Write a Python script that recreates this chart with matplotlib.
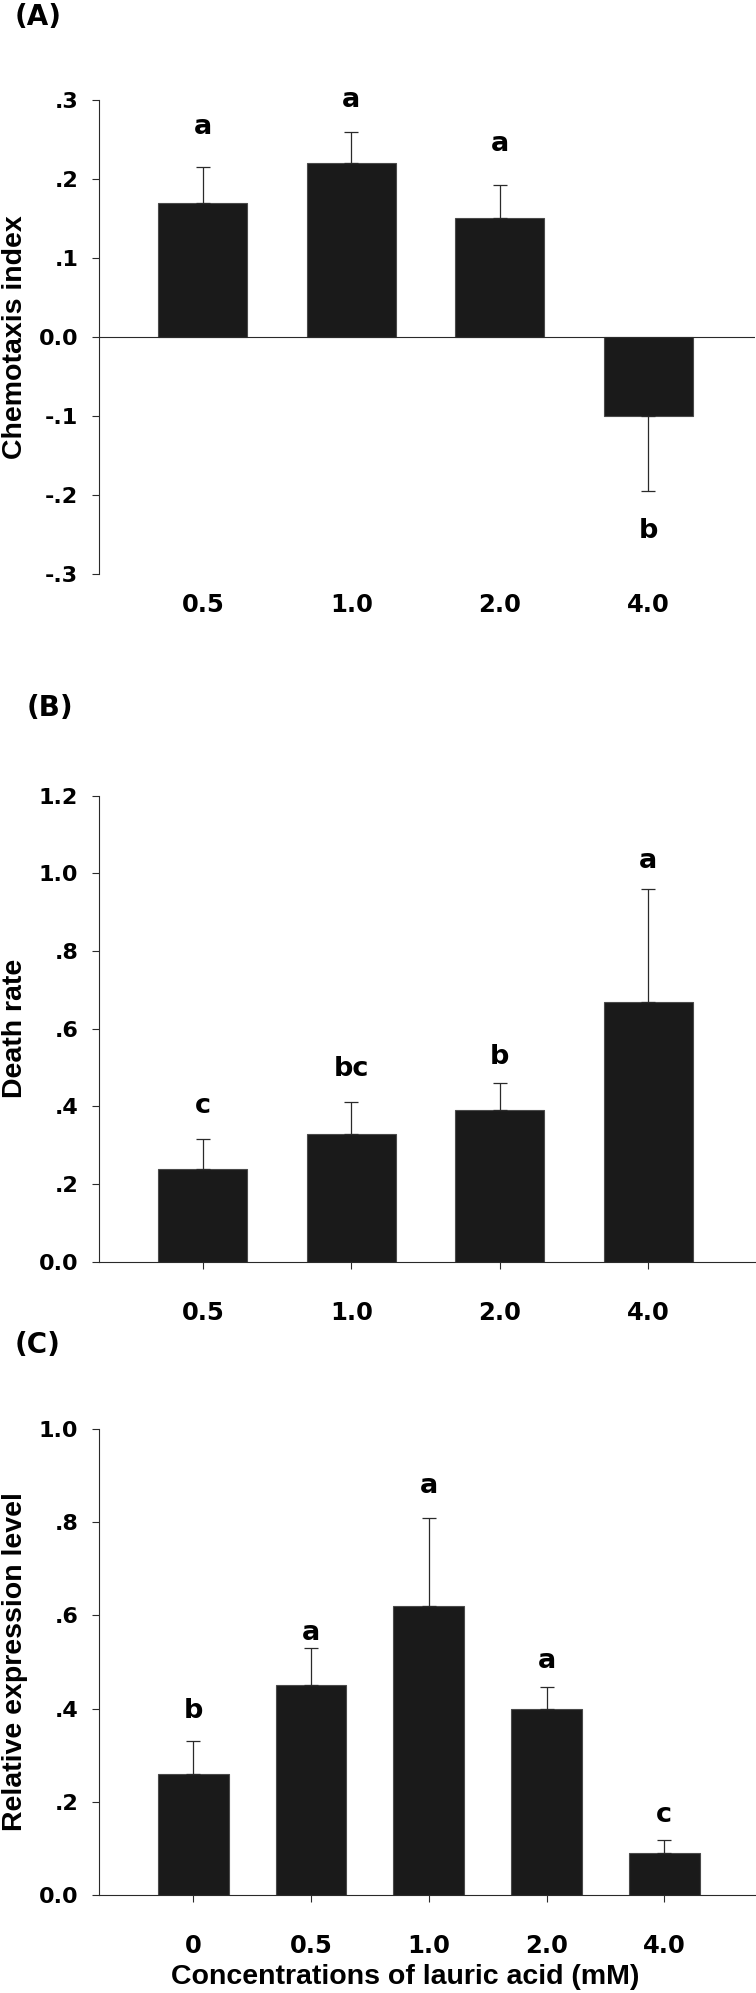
import matplotlib
matplotlib.use('Agg')
import matplotlib.pyplot as plt

# ---------------- data ----------------
# Panel A: chemotaxis index
a_cats = ['0.5', '1.0', '2.0', '4.0']
a_means = [0.17, 0.22, 0.15, -0.10]
a_err = [0.045, 0.040, 0.042, 0.095]
a_letters = ['a', 'a', 'a', 'b']
a_letter_y = [0.266, 0.300, 0.244, -0.245]
a_yticks = [-0.3, -0.2, -0.1, 0.0, 0.1, 0.2, 0.3]
a_yticklabels = ['-.3', '-.2', '-.1', '0.0', '.1', '.2', '.3']

# Panel B: death rate
b_cats = ['0.5', '1.0', '2.0', '4.0']
b_means = [0.24, 0.33, 0.39, 0.67]
b_err = [0.075, 0.080, 0.070, 0.290]
b_letters = ['c', 'bc', 'b', 'a']
b_letter_y = [0.400, 0.495, 0.528, 1.033]
b_yticks = [0.0, 0.2, 0.4, 0.6, 0.8, 1.0, 1.2]
b_yticklabels = ['0.0', '.2', '.4', '.6', '.8', '1.0', '1.2']

# Panel C: relative expression level
c_cats = ['0', '0.5', '1.0', '2.0', '4.0']
c_means = [0.26, 0.45, 0.62, 0.40, 0.09]
c_err = [0.070, 0.080, 0.190, 0.047, 0.028]
c_letters = ['b', 'a', 'a', 'a', 'c']
c_letter_y = [0.395, 0.562, 0.877, 0.502, 0.172]
c_yticks = [0.0, 0.2, 0.4, 0.6, 0.8, 1.0]
c_yticklabels = ['0.0', '.2', '.4', '.6', '.8', '1.0']

# ---------------- style ----------------
plt.rcParams['font.family'] = ['DejaVu Sans']
plt.rcParams['font.weight'] = 'bold'
W, H = 756, 1993
LINE = '#2a2a2a'
BAR = '#1a1a1a'
LABEL_FONT = ['Liberation Sans', 'DejaVu Sans']

fig = plt.figure(figsize=(W / 100, H / 100), dpi=100)


def rect(left, top, right, bottom):
    return [left / W, 1 - bottom / H, (right - left) / W, (bottom - top) / H]


def draw(ax, cats, means, err, letters, letter_y, yticks, yticklabels,
         ylim, xlim, ylabel, zero_line):
    x = list(range(len(cats)))
    lower = [e if m < 0 else 0 for m, e in zip(means, err)]
    upper = [e if m >= 0 else 0 for m, e in zip(means, err)]
    ax.bar(x, means, width=0.6, color=BAR, edgecolor='#4a4a4a',
           linewidth=0.8, zorder=2)
    ax.errorbar(x, means, yerr=[lower, upper], fmt='none', ecolor=LINE,
                elinewidth=0.9, capsize=5.2, capthick=0.9, zorder=3)
    for xi, lt, ly in zip(x, letters, letter_y):
        ax.text(xi, ly, lt, ha='center', va='center', fontsize=19.5,
                fontweight='bold', color='black')
    ax.set_xlim(*xlim)
    ax.set_ylim(*ylim)
    ax.set_yticks(yticks)
    ax.set_yticklabels(yticklabels)
    ax.set_xticks(x)
    ax.set_xticklabels(cats)
    for s in ['top', 'right']:
        ax.spines[s].set_visible(False)
    ax.spines['left'].set_color(LINE)
    ax.spines['left'].set_linewidth(0.8)
    ax.tick_params(axis='y', length=5, width=0.8, color=LINE, pad=10,
                   labelsize=16)
    if zero_line:
        ax.spines['bottom'].set_visible(False)
        ax.axhline(0, color=LINE, lw=0.8, zorder=4)
        ax.tick_params(axis='x', length=0, pad=14, labelsize=17.5)
    else:
        ax.spines['bottom'].set_color(LINE)
        ax.spines['bottom'].set_linewidth(0.8)
        ax.spines['bottom'].set_zorder(4)
        ax.tick_params(axis='x', length=5, width=0.8, color=LINE, pad=23,
                       labelsize=17.5)
    ax.set_ylabel(ylabel, fontsize=20.5, fontweight='bold',
                  family=LABEL_FONT, va='center')
    ax.yaxis.set_label_coords(-0.128, 0.5)


axA = fig.add_axes(rect(99, 100, 755, 574))
draw(axA, a_cats, a_means, a_err, a_letters, a_letter_y, a_yticks,
     a_yticklabels, (-0.3, 0.3), (-0.7, 3.72), 'Chemotaxis index', True)

axB = fig.add_axes(rect(99, 795.7, 755, 1261.7))
draw(axB, b_cats, b_means, b_err, b_letters, b_letter_y, b_yticks,
     b_yticklabels, (0, 1.2), (-0.7, 3.72), 'Death rate', False)

axC = fig.add_axes(rect(99, 1429, 755, 1895))
draw(axC, c_cats, c_means, c_err, c_letters, c_letter_y, c_yticks,
     c_yticklabels, (0, 1.0), (-0.8, 4.77), 'Relative expression level', False)
axC.set_xlabel('Concentrations of lauric acid (mM)', fontsize=20.5,
               fontweight='bold', family=LABEL_FONT, va='center')
axC.xaxis.set_label_coords(0.466, -0.176)

for lbl, xpx, ypx in [('(A)', 15, 16.5), ('(B)', 27, 708), ('(C)', 15, 1345.5)]:
    fig.text(xpx / W, 1 - ypx / H, lbl, ha='left', va='center', fontsize=20,
             fontweight='bold')

fig.savefig('out.png', dpi=100)
